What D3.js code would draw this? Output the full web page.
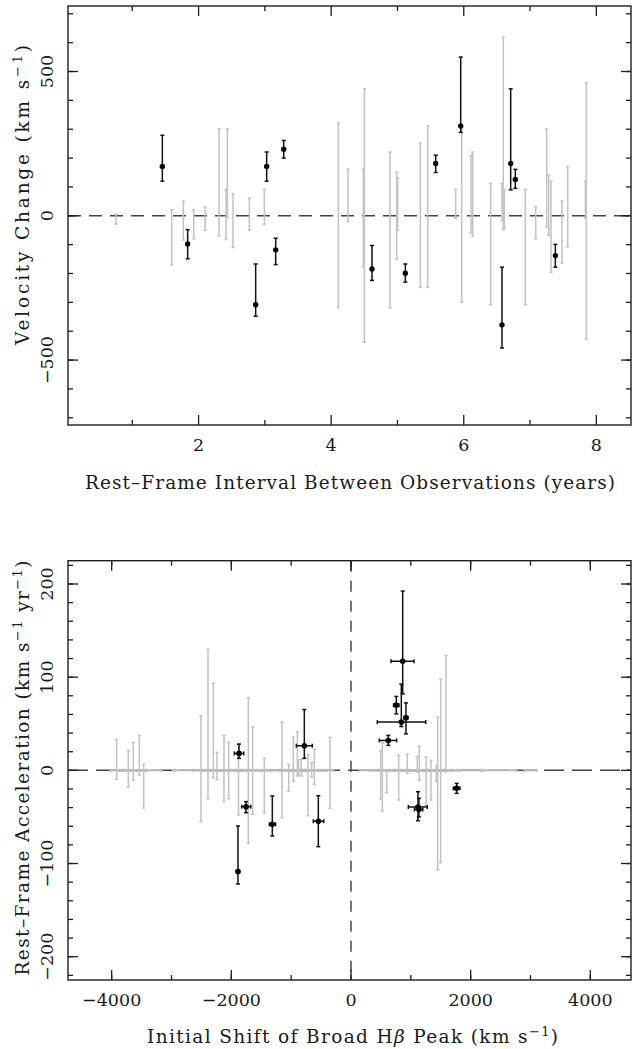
<!DOCTYPE html>
<html><head><meta charset="utf-8">
<script src="https://cdn.jsdelivr.net/npm/d3@7"></script>
<style>
html,body{margin:0;padding:0;background:#fff;}
svg{display:block;}
text{font-family:"DejaVu Serif",serif;fill:#1a1a1a;}
</style></head><body>
<svg id="chart" width="632" height="1049"></svg>
<script>
// ---------- Upper panel: velocity change vs. rest-frame interval ----------
// significant changes (points with error bars)
const detInterval  = [1.453, 1.835, 2.861, 3.027, 3.163, 3.284, 4.616, 5.119, 5.577, 5.954, 6.577, 6.708, 6.778, 7.382];
const detDeltaV    = [171, -98, -308, 171, -118, 231, -184, -199, 181, 311, -378, 181, 126, -138];
const detDeltaVHi  = [279, -48, -167, 221, -78, 261, -103, -167, 210, 550, -178, 440, 161, -99];
const detDeltaVLo  = [120, -149, -348, 120, -169, 200, -224, -230, 150, 289, -458, 90, 95, -178];
// non-significant changes (ranges only)
const ndInterval   = [0.754, 1.594, 1.770, 1.926, 2.097, 2.308, 2.414, 2.434, 2.519, 2.766, 2.992,
                      4.108, 4.254, 4.486, 4.501, 4.888, 4.988, 5.003, 5.345, 5.456, 5.878, 5.970,
                      6.109, 6.134, 6.406, 6.577, 6.597, 6.612, 6.929, 7.086, 7.251, 7.281, 7.316,
                      7.482, 7.568, 7.835, 7.849];
const ndDeltaVHi   = [5, 21, 51, 21, 31, 301, 91, 301, 76, 61, 91,
                      321, 162, 162, 440, 221, 151, 131, 252, 311, 91, 300,
                      209, 221, 112, 112, 619, 91, 91, 31, 300, 141, 120,
                      51, 171, 120, 460];
const ndDeltaVLo   = [-29, -170, -84, -80, -50, -70, -80, -6, -110, -50, -29,
                      -318, -20, -178, -438, -319, -150, -50, -248, -248, -9, -299,
                      -60, -70, -308, -17, -49, -43, -308, -80, -39, -68, -196,
                      -164, -108, -8, -427];
const topXTicks = [2, 4, 6, 8];
const topYTicks = [-500, 0, 500];

// ---------- Lower panel: acceleration vs. initial H-beta peak shift ----------
const detShift     = [-1872, -1755, -1889, -1315, -780, -546, 864, 841, 757, 919, 624, 1120, 1135, 1766];
const detShiftLo   = [-1950, -1827, -1915, -1364, -914, -630, 669, 440, 712, 889, 473, 958, 1060, 1711];
const detShiftHi   = [-1793, -1676, -1863, -1260, -647, -456, 1053, 1249, 802, 949, 763, 1275, 1200, 1821];
const detAccel     = [18.2, -39, -108.6, -57.9, 26.4, -54.6, 117.1, 51.8, 70, 56.4, 32.1, -39.3, -42, -19.3];
const detAccelHi   = [28.2, -33.6, -59.7, -27.5, 65.3, -27.2, 192.4, 92.5, 79.3, 72.4, 37.5, -22.9, -30, -14];
const detAccelLo   = [12.9, -45.4, -122, -70.4, 12.9, -81.9, 82, 47, 60.6, 39.2, 26.8, -54, -50, -24.7];
const ndShift      = [-3917, -3722, -3638, -3538, -3465,
                      -2507, -2390, -2301, -2240, -2123, -2045, -1880, -1716, -1643, -1449, -1153,
                      -1041, -964, -897, -875, -830, -719, -657, -613, -351,
                      496, 524, 596, 797, 941, 1108, 1142, 1254, 1337, 1426, 1449, 1499, 1588,
                      2000, 2490, 3000];
const ndShiftErr   = [110, 150, 200, 130, 300,
                      460, 250, 180, 120, 300, 200, 150, 220, 300, 260, 300,
                      120, 200, 150, 100, 180, 250, 120, 200, 60,
                      357, 200, 150, 300, 200, 250, 150, 300, 200, 150, 250, 200, 200,
                      170, 280, 100];
const ndAccelHi    = [33.2, 21.4, 30, 37.5, 6.4,
                      58.5, 130, 93.5, 19.3, 37.5, 30, 28.2, 77.8, 46.7, 13.2, 52.1,
                      6.4, 35.7, 41.4, 11.4, 12, 17.1, 8.6, 22.5, 35.4,
                      21, 29.6, 0, 16.4, 17.5, 15, 26, 14.3, 10.7, 5, 57.1, 97.8, 123.2,
                      2, 2, 2];
const ndAccelLo    = [-9.6, -17.9, -10.4, -5, -40.4,
                      -55, -30.7, -7.9, -10, -33.6, -30.4, -47.9, -78.2, -47.1, -45.4, -50.8,
                      -22.5, -11.8, -6.1, -5, -6, -48.6, -7, -15, -40.7,
                      -30.7, -43.6, -24, -31.8, -3.2, -2, -10.7, -37.9, -31.8, -12, -106.8, -99, -1.5,
                      -2, -2, -2];
const botXTicks = [-4000, -2000, 0, 2000, 4000];
const botYTicks = [-200, -100, 0, 100, 200];

const svg = d3.select("#chart");
const INK = "#1e1e1e", GREY = "#c2c2c2";

// scales
const xTop = d3.scaleLinear().domain([0.03, 8.523]).range([68, 631]);
const yTop = d3.scaleLinear().domain([727, -725]).range([6, 425]);
const xBot = d3.scaleLinear().domain([-4730, 4680]).range([68, 631]);
const yBot = d3.scaleLinear().domain([225, -225]).range([560.7, 980]);

function drawFrame(g, x, y, xMajor, xMinor, yMajor, yMinor) {
  const [x0, x1] = x.range(), [y0, y1] = y.range();
  const t = g.append("g").attr("stroke", INK).attr("stroke-width", 1.3);
  const inX = v => { const p = x(v); return p > x0 + 1 && p < x1 - 1; };
  const inY = v => { const p = y(v); return p > y0 + 1 && p < y1 - 1; };
  const xt = (vals, len) => vals.filter(inX).forEach(v => {
    t.append("line").attr("x1", x(v)).attr("x2", x(v)).attr("y1", y1).attr("y2", y1 - len);
    t.append("line").attr("x1", x(v)).attr("x2", x(v)).attr("y1", y0).attr("y2", y0 + len);
  });
  const yt = (vals, len) => vals.filter(inY).forEach(v => {
    t.append("line").attr("y1", y(v)).attr("y2", y(v)).attr("x1", x0).attr("x2", x0 + len);
    t.append("line").attr("y1", y(v)).attr("y2", y(v)).attr("x1", x1).attr("x2", x1 - len);
  });
  xt(xMinor, 5); xt(xMajor, 10); yt(yMinor, 5); yt(yMajor, 10);
  g.append("rect").attr("x", x0).attr("y", y0).attr("width", x1 - x0).attr("height", y1 - y0)
    .attr("fill", "none").attr("stroke", INK).attr("stroke-width", 1.4);
}

function tickLabels(g, x, y, xVals, yVals) {
  const fmt = v => (v < 0 ? "\u2212" : "") + Math.abs(v);
  const yb = y.range()[1] + 25.5;
  xVals.forEach(v => g.append("text").attr("x", x(v)).attr("y", yb)
    .attr("text-anchor", "middle").attr("font-size", 17.5).text(fmt(v)));
  yVals.forEach(v => g.append("text").attr("x", 53).attr("y", y(v))
    .attr("transform", `rotate(-90,53,${y(v)})`)
    .attr("text-anchor", "middle").attr("font-size", 17.5).text(fmt(v)));
}

// label made of plain and superscript parts, stretched to a given length
function label(g, parts, cx, cy, len, rotate) {
  const t = g.append("text").attr("x", cx).attr("y", cy).attr("text-anchor", "middle")
    .attr("font-size", 18.5).attr("textLength", len).attr("lengthAdjust", "spacing");
  if (rotate) t.attr("transform", `rotate(-90,${cx},${cy})`);
  let raised = false;
  parts.forEach(p => {
    const s = t.append("tspan").text(p.t);
    if (p.sup && !raised) { s.attr("dy", -7).attr("font-size", 13); raised = true; }
    else if (p.sup) { s.attr("font-size", 13); }
    else if (raised) { s.attr("dy", 7); raised = false; }
    if (p.it) s.attr("font-style", "italic");
  });
}

function vBar(g, x, lo, hi, cap, color, w) {
  g.append("line").attr("x1", x).attr("x2", x).attr("y1", lo).attr("y2", hi)
    .attr("stroke", color).attr("stroke-width", w);
  [lo, hi].forEach(p => g.append("line").attr("x1", x - cap).attr("x2", x + cap)
    .attr("y1", p).attr("y2", p).attr("stroke", color).attr("stroke-width", w));
}
function hBar(g, y, lo, hi, cap, color, w) {
  g.append("line").attr("y1", y).attr("y2", y).attr("x1", lo).attr("x2", hi)
    .attr("stroke", color).attr("stroke-width", w);
  [lo, hi].forEach(p => g.append("line").attr("y1", y - cap).attr("y2", y + cap)
    .attr("x1", p).attr("x2", p).attr("stroke", color).attr("stroke-width", w));
}

// ===== Upper panel =====
const gT = svg.append("g");
gT.append("line").attr("x1", 68).attr("x2", 631).attr("y1", yTop(0)).attr("y2", yTop(0))
  .attr("stroke", "#444").attr("stroke-width", 1.5).attr("stroke-dasharray", "13,8");
ndInterval.forEach((v, i) => vBar(gT, xTop(v), yTop(ndDeltaVLo[i]), yTop(ndDeltaVHi[i]), 1.6, GREY, 1.5));
detInterval.forEach((v, i) => {
  vBar(gT, xTop(v), yTop(detDeltaVLo[i]), yTop(detDeltaVHi[i]), 2, "#111", 1.5);
  gT.append("circle").attr("cx", xTop(v)).attr("cy", yTop(detDeltaV[i])).attr("r", 2.7).attr("fill", "#000");
});
drawFrame(gT, xTop, yTop, topXTicks, d3.range(1, 9, 2), topYTicks, d3.range(-700, 701, 100));
tickLabels(gT, xTop, yTop, topXTicks, topYTicks);
label(gT, [{t: "Rest\u2013Frame Interval Between Observations (years)"}], 350, 488.5, 530, false);
label(gT, [{t: "Velocity Change (km s"}, {t: "\u22121", sup: true}, {t: ")"}], 29, 195, 300, true);

// ===== Lower panel =====
const gB = svg.append("g");
gB.append("line").attr("x1", 68).attr("x2", 631).attr("y1", yBot(0)).attr("y2", yBot(0))
  .attr("stroke", "#444").attr("stroke-width", 1.5).attr("stroke-dasharray", "20,8");
gB.append("line").attr("x1", xBot(0)).attr("x2", xBot(0)).attr("y1", 560.7).attr("y2", 980)
  .attr("stroke", "#444").attr("stroke-width", 1.5).attr("stroke-dasharray", "11,9");
ndShift.forEach((v, i) => {
  hBar(gB, yBot(0), xBot(v - ndShiftErr[i]), xBot(v + ndShiftErr[i]), 1.5, "#b8b8b8", 2);
});
ndShift.forEach((v, i) => {
  if (ndAccelHi[i] - ndAccelLo[i] > 5)
    vBar(gB, xBot(v), yBot(ndAccelLo[i]), yBot(ndAccelHi[i]), 1.6, GREY, 1.5);
});
detShift.forEach((v, i) => {
  vBar(gB, xBot(v), yBot(detAccelLo[i]), yBot(detAccelHi[i]), 2, "#111", 1.5);
  hBar(gB, yBot(detAccel[i]), xBot(detShiftLo[i]), xBot(detShiftHi[i]), 2, "#111", 1.5);
  gB.append("circle").attr("cx", xBot(v)).attr("cy", yBot(detAccel[i])).attr("r", 2.8).attr("fill", "#000");
});
drawFrame(gB, xBot, yBot, botXTicks, d3.range(-4000, 4001, 1000), botYTicks, d3.range(-220, 221, 20));
tickLabels(gB, xBot, yBot, botXTicks, botYTicks);
label(gB, [{t: "Initial Shift of Broad H"}, {t: "\u03B2", it: true}, {t: " Peak (km s"}, {t: "\u22121", sup: true}, {t: ")"}], 352.5, 1043, 411, false);
label(gB, [{t: "Rest\u2013Frame Acceleration (km s"}, {t: "\u22121", sup: true}, {t: " yr"}, {t: "\u22121", sup: true}, {t: ")"}], 29, 768, 415, true);
</script>
</body></html>
